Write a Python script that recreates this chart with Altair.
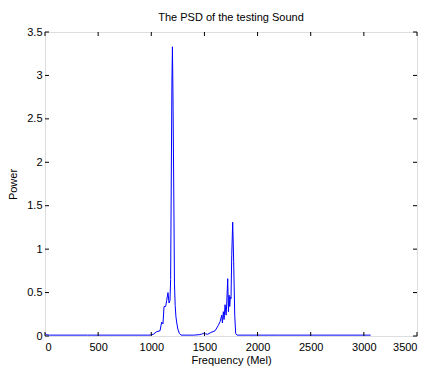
import altair as alt
import pandas as pd

freq_mel = [0, 15, 40, 400, 800, 960, 988, 1019, 1051, 1082, 1098, 1110, 1120, 1135, 1145, 1157,
            1167, 1176, 1182, 1187, 1194, 1199, 1204, 1212, 1218, 1225, 1232, 1240, 1250, 1264,
            1280, 1400, 1450, 1470, 1490, 1510, 1530, 1560, 1600, 1630, 1647, 1663, 1669, 1678,
            1685, 1694, 1704, 1710, 1719, 1726, 1732, 1738, 1744, 1750, 1757, 1766, 1775, 1785,
            1794, 1807, 2200, 2700, 3064]
power = [0.03, 0.015, 0.01, 0.01, 0.01, 0.01, 0.01, 0.02, 0.05, 0.06, 0.16, 0.14, 0.34, 0.34, 0.41, 0.50,
         0.38, 0.41, 0.65, 1.6, 2.9, 3.33, 2.8, 1.6, 0.6, 0.35, 0.22, 0.15, 0.08, 0.03,
         0.01, 0.01, 0.015, 0.02, 0.03, 0.025, 0.02, 0.04, 0.06, 0.12, 0.165, 0.24, 0.15, 0.28,
         0.19, 0.36, 0.24, 0.38, 0.66, 0.28, 0.47, 0.34, 0.45, 0.43, 0.93, 1.31, 0.86, 0.24,
         0.03, 0.01, 0.01, 0.01, 0.01]

x_ticks = [0, 500, 1000, 1500, 2000, 2500, 3000, 3500]
y_ticks = [0, 0.5, 1, 1.5, 2, 2.5, 3, 3.5]

W, H = 372, 304
FONT = "Liberation Sans"

df = pd.DataFrame({"f": freq_mel, "p": power})
xt = pd.DataFrame({"v": x_ticks})
yt = pd.DataFrame({"v": y_ticks})

xscale = alt.Scale(domain=[0, 3500], nice=False, zero=False)
yscale = alt.Scale(domain=[0, 3.5], nice=False, zero=False)

axis_common = dict(ticks=False, domain=False, grid=False,
                   labelFont=FONT, labelFontSize=11, labelColor="black",
                   titleFont=FONT, titleFontSize=11, titleFontWeight="normal",
                   titleColor="black")

line = alt.Chart(df).mark_line(color="#0000ff", strokeWidth=1, clip=True).encode(
    x=alt.X("f:Q", scale=xscale, title="Frequency (Mel)",
            axis=alt.Axis(values=x_ticks, labelPadding=5, titlePadding=2, format="d",
                          **axis_common)),
    y=alt.Y("p:Q", scale=yscale, title="Power",
            axis=alt.Axis(values=y_ticks, labelPadding=3, titlePadding=8, format="~g",
                          **axis_common)),
)

tb = alt.Chart(xt).mark_rule(color="black", strokeWidth=1).encode(
    x=alt.X("v:Q", scale=xscale), y=alt.value(H), y2=alt.value(H - 4))
tt = alt.Chart(xt).mark_rule(color="black", strokeWidth=1).encode(
    x=alt.X("v:Q", scale=xscale), y=alt.value(0), y2=alt.value(4))
tl = alt.Chart(yt).mark_rule(color="black", strokeWidth=1).encode(
    y=alt.Y("v:Q", scale=yscale), x=alt.value(0), x2=alt.value(4))
tr = alt.Chart(yt).mark_rule(color="black", strokeWidth=1).encode(
    y=alt.Y("v:Q", scale=yscale), x=alt.value(W - 4), x2=alt.value(W))

chart = alt.layer(line, tb, tt, tl, tr).properties(
    width=W, height=H,
    title=alt.TitleParams("The PSD of the testing Sound", fontSize=11, fontWeight="normal",
                          font=FONT, color="black", offset=3, anchor="middle"),
    autosize=alt.AutoSizeParams(type="none"),
    padding={"left": 37, "top": 24, "right": 2, "bottom": 34},
).configure_view(stroke="black", strokeWidth=1).configure(background="white")

chart.save("out.html", embed_options={"renderer": "svg", "actions": False})
